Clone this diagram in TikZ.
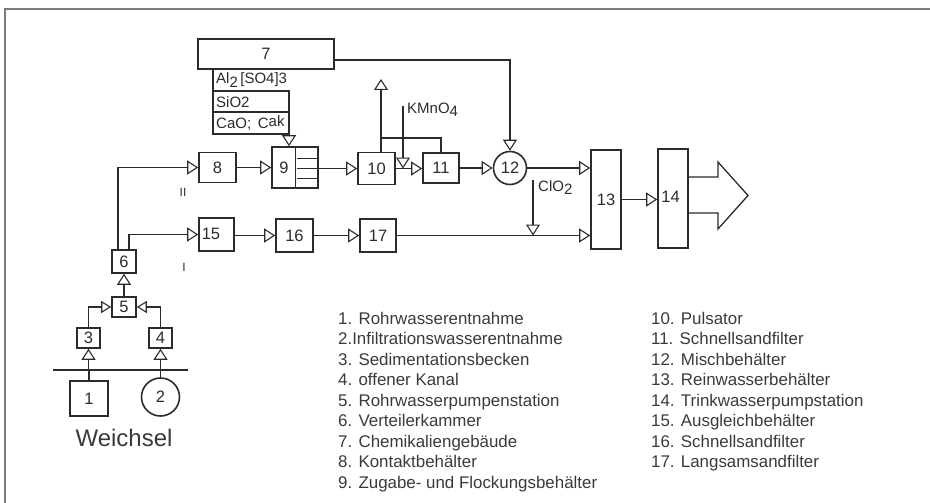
\documentclass[tikz,border=0pt]{standalone}
\usepackage{fontspec}
\setmainfont{Liberation Sans}
\usetikzlibrary{arrows.meta,calc}
\definecolor{ink}{HTML}{2B2B2B}
\definecolor{txt}{HTML}{3A3A3A}
\definecolor{framec}{HTML}{7A7A7A}
\begin{document}
\begin{tikzpicture}[x=1pt,y=-1pt,
  box/.style={draw=ink, line width=1.6pt, inner sep=0pt, text=ink, font=\fontsize{16.5}{16.5}\selectfont},
  conn/.style={draw=ink, line width=1.1pt},
  arr/.style={conn, -{Triangle[open,length=11pt,width=14pt,line width=1.1pt]}},
  arrs/.style={conn, -{Triangle[open,length=10pt,width=12pt,line width=1.1pt]}},
  chem/.style={text=ink, font=\fontsize{15}{15}\selectfont, inner sep=0pt, anchor=west},
  lbl/.style={text=ink, font=\fontsize{16.5}{16.5}\selectfont, inner sep=0pt},
  legend/.style={text=txt, font=\fontsize{16.9}{16.9}\selectfont, inner sep=0pt, anchor=base west}]
\useasboundingbox (0,0) rectangle (930,503);
% frame
\draw[framec, line width=1.4pt] (5,503) -- (5,9) -- (930,9);

% boxes
\node[box, minimum width=136pt, minimum height=30pt] (b7) at (266,54) {7};
\node[box, minimum width=37pt, minimum height=30pt] (b8) at (217.5,167.5) {8};
\node[box, minimum width=46pt, minimum height=41pt] (b9) at (295,167.5) {};
\node[lbl] (l9) at (284,168) {9};
\node[box, minimum width=37pt, minimum height=32pt] (b10) at (376.5,168.5) {10};
\node[box, minimum width=36pt, minimum height=30pt] (b11) at (441,168) {11};
\node[box, circle, minimum size=33pt] (c12) at (510,168) {12};
\node[box, minimum width=30pt, minimum height=99pt] (b13) at (606,199.5) {13};
\node[box, minimum width=30pt, minimum height=99pt] (b14) at (673,198.5) {};
\node[lbl] (l14) at (670.5,197) {14};
\node[box, minimum width=35pt, minimum height=33pt] (b15) at (216.5,234.5) {};
\node[lbl] (l15) at (211,234) {15};
\node[box, minimum width=37pt, minimum height=33pt] (b16) at (294.5,235.5) {16};
\node[box, minimum width=36pt, minimum height=33pt] (b17) at (378,235.5) {17};
\node[box, minimum width=24pt, minimum height=23pt] (b6) at (124,261.5) {6};
\node[box, minimum width=24pt, minimum height=20pt] (b5) at (124,307) {5};
\node[box, minimum width=23pt, minimum height=20pt] (b3) at (88.5,338) {3};
\node[box, minimum width=23pt, minimum height=20pt] (b4) at (160.5,338) {4};
\node[box, minimum width=38pt, minimum height=35pt] (b1) at (89,398.5) {1};
\node[box, circle, minimum size=38pt] (c2) at (160.5,397) {2};

% compartments of 9
\draw[conn, line width=1.3pt] ($(b9.north west)+(24,0)$) -- ($(b9.south west)+(24,0)$);
\foreach \d in {12,22,32}
  \draw[conn, line width=1.3pt] ($(b9.north east)+(-22,\d)$) -- ($(b9.north east)+(0,\d)$);

% chemical table under 7
\coordinate (tTL) at (213,69);
\coordinate (tBL) at (213,134);
\coordinate (tR1) at (289,91);
\coordinate (tBR) at (289,134);
\draw[conn] (tTL) -- (tBL) -- (tBR);
\draw[conn] (tTL |- tR1) -- (tR1) -- (tBR);
\draw[conn] (213,112) -- (289,112);
\draw[arr] (tBR) -- (tBR |- b9.north);
\node[chem] (al) at (216,80) {Al\raisebox{-3.5pt}{2}\,[SO4]3};
\node[chem] (si) at (216,102) {SiO2};
\node[chem] (ca) at (216,123.5) {CaO;\, C\raisebox{2pt}{ak}};

% line 7 -> 12
\draw[arr] ([yshift=-6pt]b7.east) -| (c12.north);

% upper line II
\draw[arr] ([xshift=-6pt]b6.north) |- (b8.west);
\draw[arr] (b8.east) -- (b8.east -| b9.west);
\draw[arr] (b9.east |- b10.west) -- (b10.west);
\draw[arr] (b10.east) -- (b10.east -| b11.west);
\draw[arr] (b11.east) -- (b11.east -| c12.west);
\draw[arr] (c12.east) -- (c12.east -| b13.west);
\draw[arr] (b13.east) -- (b13.east -| b14.west);

% outlet of 10 and bypass to 11
\coordinate (up10) at (381,79);
\coordinate (j10) at (381,138);
\draw[arr] (b10.north -| up10) -- (up10);
\draw[conn] (j10) -| (b11.north);

% KMnO4
\coordinate (kmn) at (403,106);
\draw[arr] (kmn) -- (kmn |- b10.east);
\node[chem] (kmnt) at (407,110) {KMnO\raisebox{-2.5pt}{4}};

% lower line I
\draw[arr] ([xshift=5pt]b6.north) |- (b15.west);
\draw[arr] (b15.east |- b16.west) -- (b16.west);
\draw[arr] (b16.east) -- (b16.east -| b17.west);
\draw[arr] (b17.east) -- (b17.east -| b13.west);

% ClO2
\coordinate (clo) at (533,180);
\draw[arr] (clo) -- (clo |- b17.east);
\node[chem] (clot) at (538,188) {ClO\raisebox{-3pt}{2}};

% big outlet arrow
\draw[conn, line width=1.3pt] (688,177) -- (718,177) -- (718,162) -- (748,195.5) -- (718,229) -- (718,213) -- (688,213);

% labels I, II
\node[lbl, font=\fontsize{12}{12}\selectfont] (tII) at (183,192) {II};
\node[lbl, font=\fontsize{12}{12}\selectfont] (tI) at (184,267) {I};

% lower left
\draw[arr] (b5.north) -- (b6.south);
\draw[arrs] (b3.north) |- (b5.west);
\draw[arrs] (b4.north) |- (b5.east);
\coordinate (rL) at (53,370);
\coordinate (rR) at (188,370);
\draw[ink, line width=2.4pt] (rL) -- (rR);
\draw[arr] (b3.south |- rL) -- (b3.south);
\draw[arr] (b4.south |- rL) -- (b4.south);
\draw[conn] (b1.north) -- (b1.north |- rL);
\draw[conn] (c2.north) -- (c2.north |- rL);
\node[text=txt, font=\fontsize{24}{24}\selectfont, inner sep=0pt] (weichsel) at (124,438) {Weichsel};

% legend
\foreach \t [count=\i] in {1. Rohrwasserentnahme, 2.Infiltrationswasserentnahme, 3. Sedimentationsbecken, 4. offener Kanal, 5. Rohrwasserpumpenstation, 6. Verteilerkammer, 7. Chemikaliengebäude, 8. Kontaktbehälter, 9. Zugabe- und Flockungsbehälter}
  \node[legend] (lgA\i) at (338, 303.5+20.5*\i) {\t};
\foreach \t [count=\i] in {10. Pulsator, 11. Schnellsandfilter, 12. Mischbehälter, 13. Reinwasserbehälter, 14. Trinkwasserpumpstation, 15. Ausgleichbehälter, 16. Schnellsandfilter, 17. Langsamsandfilter}
  \node[legend] (lgB\i) at (651, 303.5+20.5*\i) {\t};
\end{tikzpicture}
\end{document}
